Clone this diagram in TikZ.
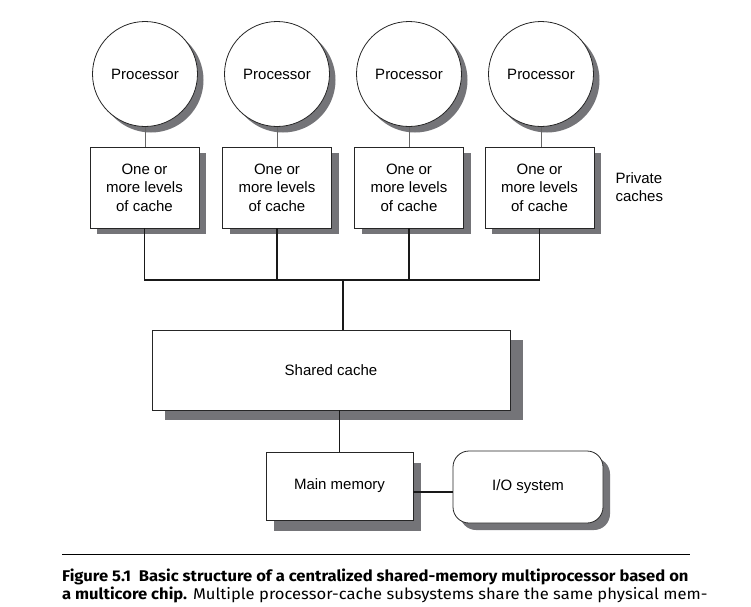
\documentclass[tikz,border=0pt]{standalone}
\usepackage{fontspec}
\setmainfont{Liberation Sans}
\newfontfamily\capfont[FakeStretch=1.07]{Fira Sans}
\usetikzlibrary{shadows}
\definecolor{shadowgray}{RGB}{116,116,120}
\tikzset{
  shade/.style 2 args={drop shadow={shadow xshift=#1,shadow yshift=-#2,fill=shadowgray,opacity=1}},
  proc/.style={circle,draw=black!85,line width=0.8pt,fill=white,minimum size=105pt,inner sep=0pt,shade={6pt}{6pt}},
  box/.style={rectangle,draw=black!85,line width=0.8pt,fill=white,align=center},
  cachebox/.style={box,minimum width=109pt,minimum height=81pt,shade={7pt}{6pt}},
  wire/.style={line width=1.2pt,black!90},
  thinwire/.style={line width=0.9pt,black!60},
  captext/.style={anchor=base west,inner sep=0pt,font=\capfont\fontsize{15.5}{19}\selectfont}
}
\begin{document}
\begin{tikzpicture}[x=1pt,y=-1pt,font=\fontsize{15}{18.5}\selectfont]
  \useasboundingbox[fill=white](0,0) rectangle (751,606);
  \node[proc](p1) at (145,74){Processor};
  \node[proc](p2) at (277,74){Processor};
  \node[proc](p3) at (409,74){Processor};
  \node[proc](p4) at (541,74){Processor};
  \node[cachebox](c1) at (144.5,187.5){One or\\more levels\\of cache};
  \node[cachebox](c2) at (277,187.5){One or\\more levels\\of cache};
  \node[cachebox](c3) at (409,187.5){One or\\more levels\\of cache};
  \node[cachebox](c4) at (539.5,187.5){One or\\more levels\\of cache};
  \node[anchor=west,align=left](priv) at (612,187){Private\\caches};
  \node[box,minimum width=358pt,minimum height=80pt,shade={13pt}{10pt}](shared) at (331,370){Shared cache};
  \node[box,minimum width=147pt,minimum height=68pt,shade={8pt}{11pt}](mem) at (339.5,486){Main memory};
  \node[box,rounded corners=16pt,minimum width=150pt,minimum height=72pt,shade={7pt}{7pt}](io) at (528,487){I/O system};
  \coordinate(bus) at (343,280);
  \coordinate(iol) at ([yshift=-5pt]io.west);
  \draw[thinwire](p1.south)--(c1.north -| p1.south);
  \draw[thinwire](p2.south)--(c2.north -| p2.south);
  \draw[thinwire](p3.south)--(c3.north -| p3.south);
  \draw[thinwire](p4.south)--(c4.north -| p4.south);
  \draw[wire](c1.south)--(c1.south |- bus)--(c4.south |- bus)--(c4.south);
  \draw[wire](c2.south)--(c2.south |- bus);
  \draw[wire](c3.south)--(c3.south |- bus);
  \draw[wire](bus)--(bus |- shared.north);
  \draw[wire](mem.north)--(mem.north |- shared.south);
  \draw[wire](iol)--(iol -| mem.east);
  \draw[line width=1pt](62,554)--(690,554);
  \node[captext](cap1) at (62,581){\bfseries Figure 5.1\ \ Basic structure of a centralized shared-memory multiprocessor based on};
  \node[captext](cap2) at (62,599){{\bfseries a multicore chip.} Multiple processor-cache subsystems share the same physical mem-};
\end{tikzpicture}
\end{document}
